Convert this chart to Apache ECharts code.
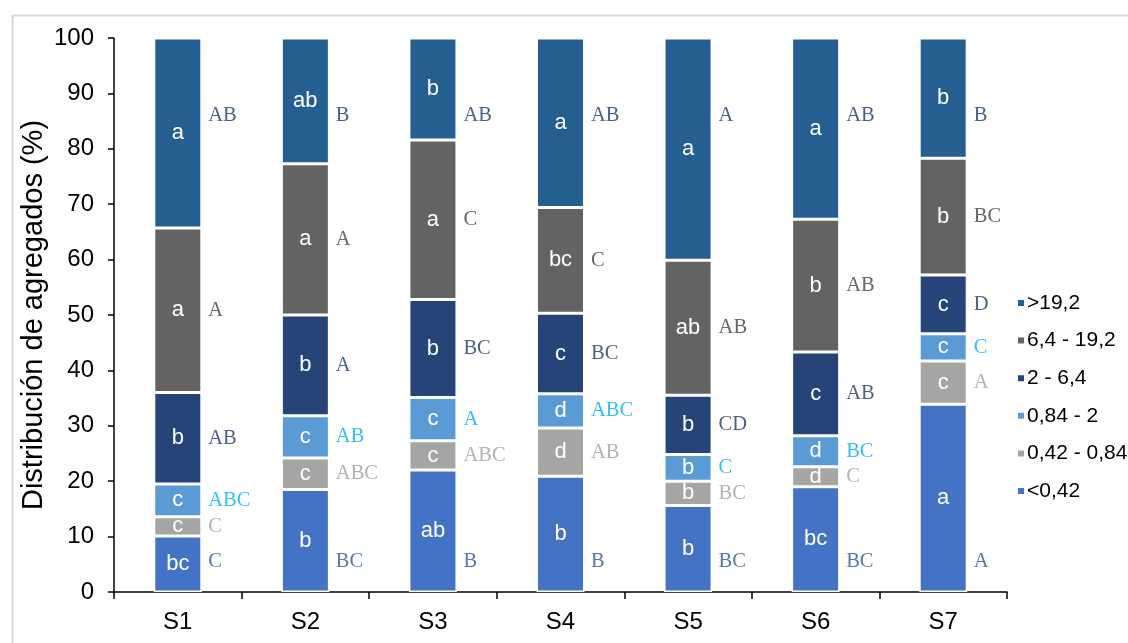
<!DOCTYPE html>
<html>
<head>
<meta charset="utf-8">
<title>Distribución de agregados</title>
<script src="https://cdn.jsdelivr.net/npm/echarts@6/dist/echarts.min.js"></script>
<style>
  html, body { margin: 0; padding: 0; background: #fff; }
  #chart { width: 1128px; height: 643px; }
</style>
</head>
<body>
<div id="chart"></div>
<script>
  // categorias (sitios)
  var sitios = ['S1', 'S2', 'S3', 'S4', 'S5', 'S6', 'S7'];

  // clases de agregados, de abajo hacia arriba
  var clases = ['<0,42', '0,42 - 0,84', '0,84 - 2', '2 - 6,4', '6,4 - 19,2', '>19,2'];

  // porcentajes por clase (lectura del grafico)
  var menor042 = [10.1, 18.5, 22.0, 20.9, 15.6, 19.0, 33.9];
  var de042a084 = [3.5, 5.7, 5.3, 8.7, 4.4, 3.6, 7.8];
  var de084a2 = [5.9, 7.6, 7.8, 6.2, 4.8, 5.6, 4.9];
  var de2a64 = [16.5, 18.2, 17.7, 14.5, 10.7, 15.1, 10.6];
  var de64a192 = [29.7, 27.3, 28.8, 19.1, 24.4, 24.0, 21.1];
  var mayor192 = [34.3, 22.7, 18.4, 30.6, 40.1, 32.7, 21.7];

  // letras dentro de las barras (comparacion entre sitios)
  var letrasMenor042 = ['bc', 'b', 'ab', 'b', 'b', 'bc', 'a'];
  var letras042a084 = ['c', 'c', 'c', 'd', 'b', 'd', 'c'];
  var letras084a2 = ['c', 'c', 'c', 'd', 'b', 'd', 'c'];
  var letras2a64 = ['b', 'b', 'b', 'c', 'b', 'c', 'c'];
  var letras64a192 = ['a', 'a', 'a', 'bc', 'ab', 'b', 'b'];
  var letrasMayor192 = ['a', 'ab', 'b', 'a', 'a', 'a', 'b'];

  // letras a la derecha (comparacion entre clases)
  var mayMenor042 = ['C', 'BC', 'B', 'B', 'BC', 'BC', 'A'];
  var may042a084 = ['C', 'ABC', 'ABC', 'AB', 'BC', 'C', 'A'];
  var may084a2 = ['ABC', 'AB', 'A', 'ABC', 'C', 'BC', 'C'];
  var may2a64 = ['AB', 'A', 'BC', 'BC', 'CD', 'AB', 'D'];
  var may64a192 = ['A', 'A', 'C', 'C', 'AB', 'AB', 'BC'];
  var mayMayor192 = ['AB', 'B', 'AB', 'AB', 'A', 'AB', 'B'];

  var valores = [menor042, de042a084, de084a2, de2a64, de64a192, mayor192];
  var letras = [letrasMenor042, letras042a084, letras084a2, letras2a64, letras64a192, letrasMayor192];
  var mayus = [mayMenor042, may042a084, may084a2, may2a64, may64a192, mayMayor192];

  var colores = ['#4472c4', '#a5a5a5', '#5b9bd5', '#264478', '#636363', '#255e91'];
  var coloresLetra = ['#2f5597', '#a0a0a0', '#00b0f0', '#1f3864', '#404040', '#203864'];

  // altura fija de las letras de la clase inferior y superior
  var yLetraInf = 5.4;
  var yLetraSup = 86;

  var series = [];

  for (let k = 0; k < clases.length; k++) {
    series.push({
      name: clases[k],
      type: 'bar',
      stack: 'total',
      barWidth: 48,
      data: valores[k],
      itemStyle: {
        color: colores[k],
        borderColor: '#fff',
        borderWidth: 1.5
      },
      label: {
        show: true,
        position: 'inside',
        color: '#fff',
        fontSize: 22,
        fontFamily: 'Arial, "Liberation Sans", sans-serif',
        formatter: function(p) {
          return letras[k][p.dataIndex];
        }
      }
    });
  }

  // letras mayusculas: a la altura media de cada tramo
  for (let k = 0; k < clases.length; k++) {
    let puntos = sitios.map(function(s, i) {
      let base = 0;
      for (let j = 0; j < k; j++) base += valores[j][i];
      let y = base + valores[k][i] / 2;
      if (k === 0) y = yLetraInf;
      if (k === clases.length - 1) y = yLetraSup;
      return y;
    });
    series.push({
      name: 'letras ' + clases[k],
      type: 'scatter',
      data: puntos,
      symbolSize: 1,
      itemStyle: { color: 'rgba(0,0,0,0)' },
      silent: true,
      z: 5,
      label: {
        show: true,
        position: 'right',
        distance: 30,
        color: coloresLetra[k],
        fontSize: 20.5,
        fontFamily: '"Times New Roman", "Liberation Serif", serif',
        formatter: function(p) {
          return mayus[k][p.dataIndex];
        }
      }
    });
  }

  var chart = echarts.init(document.getElementById('chart'));

  chart.setOption({
    animation: false,
    backgroundColor: '#fff',
    grid: {
      left: 114,
      right: 121,
      top: 38,
      bottom: 51
    },
    legend: {
      data: clases.slice().reverse(),
      orient: 'vertical',
      left: 1011,
      top: 287.5,
      itemWidth: 8,
      itemHeight: 8,
      itemGap: 16.6,
      icon: 'rect',
      textStyle: {
        color: '#000',
        fontSize: 21,
        lineHeight: 21,
        fontFamily: 'Arial, "Liberation Sans", sans-serif',
        padding: [0, 0, 0, -3]
      }
    },
    xAxis: {
      type: 'category',
      data: sitios,
      axisLine: { lineStyle: { color: '#000', width: 1.5 } },
      axisTick: { show: true, length: 7, lineStyle: { color: '#000', width: 1.5 } },
      axisLabel: {
        color: '#000',
        fontSize: 24,
        margin: 18,
        fontFamily: 'Arial, "Liberation Sans", sans-serif'
      }
    },
    yAxis: {
      type: 'value',
      min: 0,
      max: 100,
      interval: 10,
      axisLine: { show: true, lineStyle: { color: '#000', width: 1.5 } },
      axisTick: { show: true, length: 6, lineStyle: { color: '#000', width: 1.5 } },
      splitLine: { show: false },
      axisLabel: {
        color: '#000',
        fontSize: 24,
        margin: 20,
        fontFamily: 'Arial, "Liberation Sans", sans-serif'
      }
    },
    graphic: [
      {
        type: 'rect',
        left: 10,
        top: 13,
        shape: { width: 1200, height: 700 },
        style: { fill: 'none', stroke: '#d9d9d9', lineWidth: 2 },
        silent: true,
        z: -1
      },
      {
        type: 'text',
        x: 34,
        y: 315,
        rotation: Math.PI / 2,
        style: {
          text: 'Distribución de agregados (%)',
          fill: '#000',
          fontSize: 29,
          fontFamily: 'Arial, "Liberation Sans", sans-serif',
          align: 'center',
          verticalAlign: 'middle'
        }
      }
    ],
    series: series
  });
</script>
</body>
</html>
